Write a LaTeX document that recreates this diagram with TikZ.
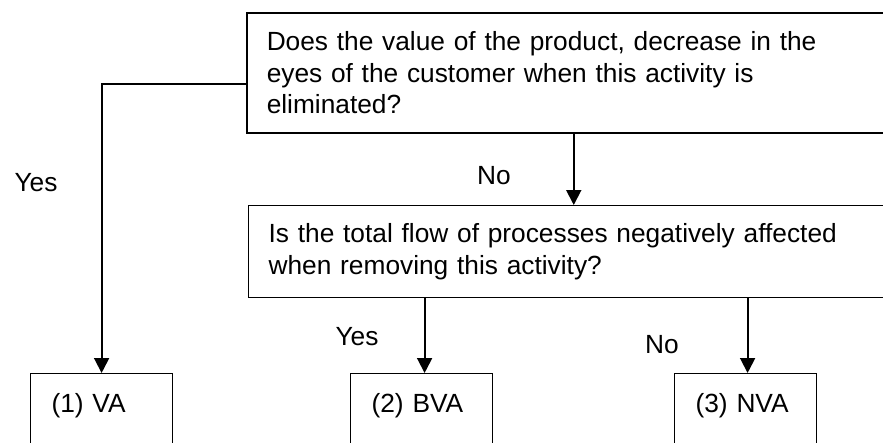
\documentclass[tikz,border=0pt]{standalone}
\usepackage{fontspec}
\setmainfont{Liberation Sans}
\usetikzlibrary{arrows.meta}
\begin{document}
\begin{tikzpicture}[x=1pt,y=-1pt,
  every node/.style={font=\fontsize{26.3}{31.5}\selectfont},
  question/.style={draw, line width=1.5pt, anchor=north west, align=left,
    inner xsep=20pt, inner ysep=0pt},
  outcome/.style={draw, line width=1.2pt, anchor=north west, align=left,
    text width=100pt, inner xsep=21pt, inner ysep=0pt,
    text height=38.5pt, text depth=40pt},
  flow/.style={line width=1.9pt, -{Triangle[width=15pt,length=15pt]}},
  answer/.style={inner sep=0pt}]
  \useasboundingbox (0,0) rectangle (883,442);
  \clip (0,0) rectangle (883,442);

  % decision boxes (they run past the right edge)
  \node[question, text width=614pt, minimum height=120pt] (q1) at (246,12)
    {Does the value of the product, decrease in the\\
     eyes of the customer when this activity is\\
     eliminated?};
  \node[question, line width=1.2pt, text width=611pt, minimum height=92pt] (q2) at (248,205)
    {Is the total flow of processes negatively affected\\
     when removing this activity?};

  % outcome boxes
  \node[outcome] (va)  at (30,373)  {(1) VA};
  \node[outcome] (bva) at (350,373) {(2) BVA};
  \node[outcome] (nva) at (674,373) {(3) NVA};

  % connectors
  \draw[flow] ([yshift=-11pt]q1.west) -| (va.north);
  \draw[flow] (q1.south) -- (q1.south |- q2.north);
  \draw[flow] ([xshift=3pt]bva.north |- q2.south) -- ([xshift=3pt]bva.north);
  \draw[flow] ([xshift=2pt]nva.north |- q2.south) -- ([xshift=2pt]nva.north);

  % answer labels
  \node[answer] (yes1) at (36,183)  {Yes};
  \node[answer] (no1)  at (494,176) {No};
  \node[answer] (yes2) at (357,337) {Yes};
  \node[answer] (no2)  at (662,345) {No};
\end{tikzpicture}
\end{document}
